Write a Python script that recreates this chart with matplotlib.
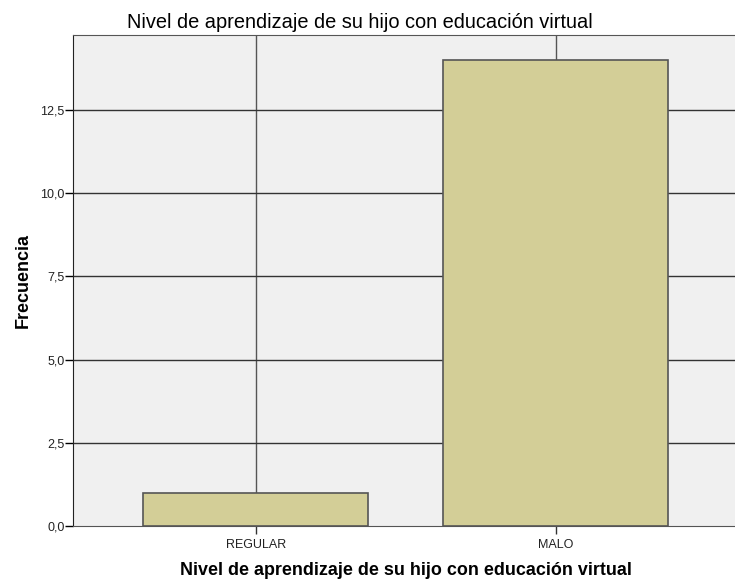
import matplotlib.pyplot as plt
from matplotlib.ticker import FuncFormatter

plt.rcParams['font.family'] = ['Liberation Sans', 'DejaVu Sans']

categories = ["REGULAR", "MALO"]
counts = [1, 14]
yticks = [0, 2.5, 5.0, 7.5, 10.0, 12.5]
title = "Nivel de aprendizaje de su hijo con educación virtual"

fig = plt.figure(figsize=(7.35, 5.81), dpi=100)
# axes run off the right edge, as in the original
ax = fig.add_axes([73 / 735, 1 - 526 / 581, 666 / 735, 491 / 581])
ax.set_facecolor("#F0F0F0")

x = list(range(len(categories)))
ax.bar(x, counts, width=0.75, color="#D3CE97", edgecolor="#555555", linewidth=1.2, zorder=3)

for xi in x:
    ax.axvline(xi, color="#555555", linewidth=1, zorder=1)
for yv in yticks[1:]:
    ax.axhline(yv, color="#333333", linewidth=1, zorder=1)

ax.set_xlim(-0.61, 1.61)
ax.set_ylim(0, 14.75)
ax.set_xticks(x)
ax.set_xticklabels(categories, fontsize=9, color="#222222")
ax.set_yticks(yticks)
ax.yaxis.set_major_formatter(FuncFormatter(lambda v, p: f"{v:.1f}".replace(".", ",")))
ax.tick_params(axis="y", labelsize=9, labelcolor="#222222", length=6, width=1, pad=0)
ax.tick_params(axis="x", length=6, width=1, pad=3, color="#333333")

for s in ["top", "bottom"]:
    ax.spines[s].set_color("#555555")
ax.spines["left"].set_color("#222222")
ax.spines["right"].set_visible(False)

fig.text(360 / 735, 1 - 27.5 / 581, title, fontsize=14.4, ha="center", va="baseline")
ax.set_xlabel(title, fontsize=12.9, fontweight="bold", labelpad=8)
ax.set_ylabel("Frecuencia", fontsize=13, fontweight="bold", labelpad=6)

fig.savefig("out.png", dpi=100)
